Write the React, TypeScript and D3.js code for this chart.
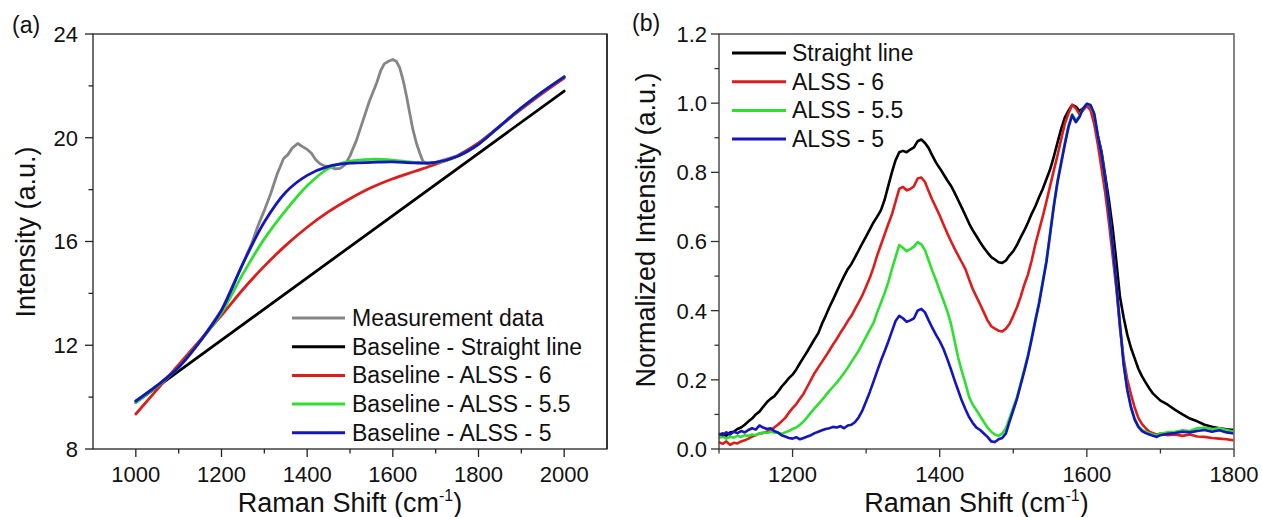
import React from "react";
import * as d3 from "d3";

const FONT = '"Liberation Sans", Arial, Helvetica, sans-serif';

// ---------- Panel (a) data ----------
const aMeasurement: [number, number][] = [
  [1000, 9.85], [1050, 10.45], [1100, 11.15], [1150, 12.15], [1200, 13.35], [1250, 15.15],
  [1270, 15.9], [1285, 16.6], [1300, 17.2], [1315, 17.85], [1330, 18.6], [1345, 19.2],
  [1355, 19.35], [1365, 19.6], [1378, 19.78], [1390, 19.65], [1400, 19.55], [1410, 19.4],
  [1420, 19.15], [1430, 19.0], [1440, 18.92], [1455, 18.88], [1465, 18.8], [1477, 18.82],
  [1488, 18.95], [1500, 19.3], [1515, 19.9], [1531, 20.7], [1545, 21.4], [1562, 22.1],
  [1572, 22.6], [1580, 22.85], [1590, 22.95], [1600, 23.02], [1608, 22.95], [1616, 22.7],
  [1625, 22.15], [1632, 21.6], [1640, 20.9], [1647, 20.3], [1655, 19.8], [1663, 19.4],
  [1670, 19.1], [1680, 19.0], [1700, 19.05], [1750, 19.3], [1800, 19.78], [1850, 20.45],
  [1900, 21.15], [1950, 21.78], [2000, 22.35],
];
const aStraight: [number, number][] = [[1000, 9.8], [2000, 21.8]];
const aAlss6: [number, number][] = [
  [1000, 9.35], [1050, 10.3], [1100, 11.25], [1150, 12.2], [1200, 13.15], [1250, 14.15],
  [1300, 15.05], [1350, 15.85], [1400, 16.55], [1450, 17.15], [1500, 17.65], [1550, 18.08],
  [1600, 18.42], [1650, 18.7], [1700, 18.98], [1750, 19.3], [1800, 19.8], [1850, 20.45],
  [1900, 21.1], [1950, 21.72], [2000, 22.3],
];
const aAlss55: [number, number][] = [
  [1000, 9.8], [1050, 10.42], [1100, 11.15], [1150, 12.15], [1200, 13.25], [1250, 14.75],
  [1300, 16.1], [1350, 17.2], [1400, 18.15], [1450, 18.82], [1500, 19.1], [1550, 19.17],
  [1600, 19.14], [1650, 19.05], [1700, 19.04], [1750, 19.28], [1800, 19.75], [1850, 20.45],
  [1900, 21.15], [1950, 21.78], [2000, 22.35],
];
const aAlss5: [number, number][] = [
  [1000, 9.85], [1050, 10.45], [1100, 11.15], [1150, 12.15], [1200, 13.35], [1250, 15.15],
  [1300, 16.75], [1350, 17.9], [1400, 18.55], [1450, 18.9], [1500, 19.02], [1550, 19.05],
  [1600, 19.07], [1650, 19.03], [1700, 19.05], [1750, 19.28], [1800, 19.75], [1850, 20.45],
  [1900, 21.15], [1950, 21.78], [2000, 22.35],
];
const aLegend = [
  "Measurement data",
  "Baseline - Straight line",
  "Baseline - ALSS - 6",
  "Baseline - ALSS - 5.5",
  "Baseline - ALSS - 5",
];
const aXMajor = [1000, 1200, 1400, 1600, 1800, 2000];
const aXMinor = [1100, 1300, 1500, 1700, 1900];
const aYMajor = [8, 12, 16, 20, 24];
const aYMinor = [10, 14, 18, 22];

// ---------- Panel (b) data ----------
const bStraight: [number, number][] = [
  [1100, 0.04], [1105, 0.045], [1110, 0.038], [1115, 0.048], [1120, 0.05], [1125, 0.058],
  [1130, 0.062], [1135, 0.07], [1140, 0.08], [1145, 0.088], [1150, 0.1], [1155, 0.108],
  [1160, 0.122], [1165, 0.135], [1170, 0.145], [1175, 0.152], [1180, 0.165], [1185, 0.18],
  [1190, 0.192], [1195, 0.205], [1200, 0.215], [1205, 0.23], [1210, 0.248], [1215, 0.265],
  [1220, 0.282], [1225, 0.3], [1230, 0.318], [1235, 0.335], [1240, 0.362], [1245, 0.385],
  [1250, 0.41], [1255, 0.432], [1260, 0.455], [1265, 0.478], [1270, 0.5], [1275, 0.52],
  [1280, 0.535], [1285, 0.555], [1290, 0.575], [1295, 0.595], [1300, 0.615], [1305, 0.635],
  [1310, 0.655], [1315, 0.672], [1320, 0.69], [1325, 0.72], [1330, 0.76], [1335, 0.8],
  [1340, 0.835], [1345, 0.858], [1350, 0.862], [1355, 0.858], [1360, 0.866], [1365, 0.872],
  [1370, 0.89], [1375, 0.895], [1380, 0.885], [1385, 0.87], [1390, 0.848], [1395, 0.828],
  [1400, 0.812], [1405, 0.795], [1410, 0.778], [1415, 0.762], [1420, 0.742], [1425, 0.72],
  [1430, 0.698], [1435, 0.675], [1440, 0.652], [1445, 0.632], [1450, 0.615], [1455, 0.598],
  [1460, 0.582], [1465, 0.568], [1470, 0.555], [1475, 0.548], [1480, 0.54], [1485, 0.538],
  [1490, 0.545], [1495, 0.56], [1500, 0.572], [1505, 0.59], [1510, 0.612], [1515, 0.632],
  [1520, 0.655], [1525, 0.68], [1530, 0.702], [1535, 0.728], [1540, 0.752], [1545, 0.78],
  [1550, 0.808], [1555, 0.845], [1560, 0.885], [1565, 0.925], [1570, 0.958], [1575, 0.978],
  [1580, 0.995], [1585, 0.99], [1590, 0.978], [1595, 0.985], [1600, 0.995], [1605, 0.985],
  [1610, 0.955], [1615, 0.905], [1620, 0.86], [1625, 0.79], [1630, 0.72], [1635, 0.64],
  [1640, 0.545], [1645, 0.44], [1650, 0.38], [1655, 0.33], [1660, 0.292], [1665, 0.262],
  [1670, 0.232], [1675, 0.21], [1680, 0.192], [1685, 0.175], [1690, 0.16], [1695, 0.15],
  [1700, 0.14], [1710, 0.128], [1720, 0.113], [1730, 0.1], [1740, 0.088], [1750, 0.08],
  [1760, 0.07], [1770, 0.064], [1780, 0.06], [1790, 0.057], [1800, 0.055],
];
const bAlss6: [number, number][] = [
  [1100, 0.02], [1105, 0.015], [1110, 0.022], [1115, 0.012], [1120, 0.018], [1125, 0.016],
  [1130, 0.022], [1135, 0.025], [1140, 0.03], [1145, 0.036], [1150, 0.04], [1155, 0.045],
  [1160, 0.046], [1165, 0.05], [1170, 0.055], [1175, 0.062], [1180, 0.07], [1185, 0.08],
  [1190, 0.09], [1195, 0.105], [1200, 0.118], [1205, 0.13], [1210, 0.145], [1215, 0.16],
  [1220, 0.18], [1225, 0.2], [1230, 0.22], [1235, 0.236], [1240, 0.252], [1245, 0.268],
  [1250, 0.285], [1255, 0.302], [1260, 0.318], [1265, 0.336], [1270, 0.352], [1275, 0.37],
  [1280, 0.385], [1285, 0.405], [1290, 0.425], [1295, 0.445], [1300, 0.47], [1305, 0.495],
  [1310, 0.525], [1315, 0.56], [1320, 0.59], [1325, 0.62], [1330, 0.65], [1335, 0.678],
  [1340, 0.715], [1345, 0.752], [1350, 0.758], [1355, 0.748], [1360, 0.752], [1365, 0.76],
  [1370, 0.782], [1375, 0.785], [1380, 0.772], [1385, 0.745], [1390, 0.72], [1395, 0.698],
  [1400, 0.675], [1405, 0.65], [1410, 0.625], [1415, 0.602], [1420, 0.58], [1425, 0.56],
  [1430, 0.54], [1435, 0.52], [1440, 0.49], [1445, 0.462], [1450, 0.44], [1455, 0.418],
  [1460, 0.395], [1465, 0.372], [1470, 0.355], [1475, 0.348], [1480, 0.342], [1485, 0.34],
  [1490, 0.348], [1495, 0.362], [1500, 0.385], [1505, 0.41], [1510, 0.44], [1515, 0.475],
  [1520, 0.505], [1525, 0.545], [1530, 0.592], [1535, 0.632], [1540, 0.672], [1545, 0.715],
  [1550, 0.76], [1555, 0.805], [1560, 0.848], [1565, 0.895], [1570, 0.94], [1575, 0.97],
  [1580, 0.995], [1585, 0.985], [1590, 0.968], [1595, 0.98], [1600, 0.992], [1605, 0.98],
  [1610, 0.94], [1615, 0.88], [1620, 0.81], [1625, 0.74], [1630, 0.655], [1635, 0.56],
  [1640, 0.465], [1645, 0.35], [1650, 0.26], [1655, 0.2], [1660, 0.158], [1665, 0.12],
  [1670, 0.09], [1675, 0.072], [1680, 0.06], [1685, 0.05], [1690, 0.046], [1695, 0.042],
  [1700, 0.045], [1710, 0.04], [1720, 0.042], [1730, 0.038], [1740, 0.042], [1750, 0.036],
  [1760, 0.035], [1770, 0.032], [1780, 0.03], [1790, 0.028], [1800, 0.025],
];
const bAlss55: [number, number][] = [
  [1100, 0.032], [1105, 0.036], [1110, 0.03], [1115, 0.035], [1120, 0.033], [1125, 0.038],
  [1130, 0.035], [1135, 0.04], [1140, 0.038], [1145, 0.042], [1150, 0.04], [1155, 0.045],
  [1160, 0.048], [1165, 0.046], [1170, 0.05], [1175, 0.048], [1180, 0.046], [1185, 0.044],
  [1190, 0.048], [1195, 0.052], [1200, 0.058], [1205, 0.062], [1210, 0.07], [1215, 0.08],
  [1220, 0.092], [1225, 0.105], [1230, 0.118], [1235, 0.13], [1240, 0.142], [1245, 0.155],
  [1250, 0.168], [1255, 0.18], [1260, 0.192], [1265, 0.205], [1270, 0.22], [1275, 0.235],
  [1280, 0.252], [1285, 0.268], [1290, 0.285], [1295, 0.305], [1300, 0.325], [1305, 0.345],
  [1310, 0.365], [1315, 0.395], [1320, 0.422], [1325, 0.45], [1330, 0.482], [1335, 0.52],
  [1340, 0.555], [1345, 0.59], [1350, 0.582], [1355, 0.572], [1360, 0.578], [1365, 0.585],
  [1370, 0.598], [1375, 0.592], [1380, 0.575], [1385, 0.545], [1390, 0.515], [1395, 0.488],
  [1400, 0.458], [1405, 0.43], [1410, 0.4], [1415, 0.365], [1420, 0.315], [1425, 0.265],
  [1430, 0.225], [1435, 0.19], [1440, 0.15], [1445, 0.128], [1450, 0.112], [1455, 0.095],
  [1460, 0.078], [1465, 0.062], [1470, 0.05], [1475, 0.042], [1480, 0.038], [1485, 0.045],
  [1490, 0.06], [1495, 0.09], [1500, 0.12], [1505, 0.15], [1510, 0.19], [1515, 0.23],
  [1520, 0.272], [1525, 0.322], [1530, 0.375], [1535, 0.425], [1540, 0.485], [1545, 0.545],
  [1550, 0.625], [1555, 0.705], [1560, 0.775], [1565, 0.83], [1570, 0.885], [1575, 0.935],
  [1580, 0.968], [1585, 0.95], [1590, 0.962], [1595, 0.985], [1600, 0.998], [1605, 0.992],
  [1610, 0.968], [1615, 0.905], [1620, 0.85], [1625, 0.775], [1630, 0.688], [1635, 0.588],
  [1640, 0.478], [1645, 0.36], [1650, 0.248], [1655, 0.172], [1660, 0.122], [1665, 0.088],
  [1670, 0.066], [1675, 0.055], [1680, 0.05], [1685, 0.046], [1690, 0.042], [1695, 0.04],
  [1700, 0.044], [1710, 0.048], [1720, 0.05], [1730, 0.054], [1740, 0.052], [1750, 0.06],
  [1760, 0.062], [1770, 0.058], [1780, 0.06], [1790, 0.055], [1800, 0.05],
];
const bAlss5: [number, number][] = [
  [1100, 0.045], [1105, 0.04], [1110, 0.048], [1115, 0.042], [1120, 0.05], [1125, 0.046],
  [1130, 0.052], [1135, 0.048], [1140, 0.055], [1145, 0.06], [1150, 0.056], [1155, 0.068],
  [1160, 0.062], [1165, 0.058], [1170, 0.06], [1175, 0.052], [1180, 0.048], [1185, 0.04],
  [1190, 0.036], [1195, 0.032], [1200, 0.03], [1205, 0.034], [1210, 0.028], [1215, 0.032],
  [1220, 0.036], [1225, 0.04], [1230, 0.046], [1235, 0.05], [1240, 0.054], [1245, 0.058],
  [1250, 0.06], [1255, 0.064], [1260, 0.062], [1265, 0.066], [1270, 0.06], [1275, 0.068],
  [1280, 0.07], [1285, 0.078], [1290, 0.092], [1295, 0.112], [1300, 0.138], [1305, 0.165],
  [1310, 0.195], [1315, 0.225], [1320, 0.255], [1325, 0.282], [1330, 0.31], [1335, 0.34],
  [1340, 0.37], [1345, 0.385], [1350, 0.378], [1355, 0.368], [1360, 0.372], [1365, 0.378],
  [1370, 0.4], [1375, 0.405], [1380, 0.395], [1385, 0.372], [1390, 0.35], [1395, 0.33],
  [1400, 0.312], [1405, 0.29], [1410, 0.262], [1415, 0.232], [1420, 0.2], [1425, 0.17],
  [1430, 0.14], [1435, 0.115], [1440, 0.092], [1445, 0.075], [1450, 0.062], [1455, 0.055],
  [1460, 0.045], [1465, 0.035], [1470, 0.022], [1475, 0.02], [1480, 0.028], [1485, 0.032],
  [1490, 0.045], [1495, 0.08], [1500, 0.112], [1505, 0.145], [1510, 0.185], [1515, 0.225],
  [1520, 0.268], [1525, 0.318], [1530, 0.37], [1535, 0.42], [1540, 0.48], [1545, 0.54],
  [1550, 0.62], [1555, 0.7], [1560, 0.77], [1565, 0.825], [1570, 0.88], [1575, 0.93],
  [1580, 0.965], [1585, 0.945], [1590, 0.96], [1595, 0.985], [1600, 0.998], [1605, 0.995],
  [1610, 0.97], [1615, 0.905], [1620, 0.85], [1625, 0.778], [1630, 0.69], [1635, 0.59],
  [1640, 0.48], [1645, 0.36], [1650, 0.245], [1655, 0.17], [1660, 0.12], [1665, 0.085],
  [1670, 0.064], [1675, 0.052], [1680, 0.046], [1685, 0.042], [1690, 0.038], [1695, 0.035],
  [1700, 0.04], [1710, 0.044], [1720, 0.046], [1730, 0.05], [1740, 0.048], [1750, 0.052],
  [1760, 0.055], [1770, 0.05], [1780, 0.054], [1790, 0.048], [1800, 0.045],
];
const bLegend = ["Straight line", "ALSS - 6", "ALSS - 5.5", "ALSS - 5"];
const bXMajor = [1200, 1400, 1600, 1800];
const bXMinor = [1100, 1300, 1500, 1700];
const bYMajor = [0, 0.2, 0.4, 0.6, 0.8, 1.0, 1.2];
const bYMinor = [0.1, 0.3, 0.5, 0.7, 0.9, 1.1];

const GRAY = "#858585";
const BLACK = "#000000";
const RED = "#dd1c1c";
const GREEN = "#2ee02e";
const BLUE = "#1414c0";

type Pt = [number, number];

function Frame({ x, y, xMajor, xMinor, yMajor, yMinor, yFmt, color, rightColor, labelGap }: any) {
  const [x0, x1] = x.range();
  const [y0, y1] = y.range();
  return (
    <g fontFamily={FONT} fill="#111">
      <rect x={x0} y={y1} width={x1 - x0} height={y0 - y1} fill="none" stroke={color} strokeWidth={1.3} />
      <line x1={x1} x2={x1} y1={y1} y2={y0} stroke={rightColor} strokeWidth={1.5} />
      {xMajor.map((v: number) => (
        <g key={"xm" + v}>
          <line x1={x(v)} x2={x(v)} y1={y0} y2={y0 + 8} stroke={color} strokeWidth={1.3} />
          <text x={x(v)} y={482} fontSize={22} textAnchor="middle">{v}</text>
        </g>
      ))}
      {xMinor.map((v: number) => (
        <line key={"xn" + v} x1={x(v)} x2={x(v)} y1={y0} y2={y0 + 4.5} stroke={color} strokeWidth={1.3} />
      ))}
      {yMajor.map((v: number) => (
        <g key={"ym" + v}>
          <line x1={x0 - 8} x2={x0} y1={y(v)} y2={y(v)} stroke={color} strokeWidth={1.3} />
          <text x={x0 - 8 - labelGap} y={y(v)} dy="0.36em" fontSize={22} textAnchor="end">{yFmt(v)}</text>
        </g>
      ))}
      {yMinor.map((v: number) => (
        <line key={"yn" + v} x1={x0 - 4.5} x2={x0} y1={y(v)} y2={y(v)} stroke={color} strokeWidth={1.3} />
      ))}
    </g>
  );
}

function XTitle({ cx }: { cx: number }) {
  return (
    <text x={cx} y={512} fontFamily={FONT} fontSize={27} textAnchor="middle" fill="#111">
      Raman Shift (cm
      <tspan fontSize={16} dy={-11}>-1</tspan>
      <tspan dy={11}>)</tspan>
    </text>
  );
}

export default function App() {
  const xA = d3.scaleLinear().domain([900, 2100]).range([93, 607]);
  const yA = d3.scaleLinear().domain([8, 24]).range([449, 34]);
  const xB = d3.scaleLinear().domain([1100, 1800]).range([719, 1234]);
  const yB = d3.scaleLinear().domain([0, 1.2]).range([449, 34]);

  const smoothA = d3.line<Pt>().x((d) => xA(d[0])).y((d) => yA(d[1])).curve(d3.curveCatmullRom.alpha(0.5));
  const rawA = d3.line<Pt>().x((d) => xA(d[0])).y((d) => yA(d[1])).curve(d3.curveLinear);
  const lineB = d3.line<Pt>().x((d) => xB(d[0])).y((d) => yB(d[1])).curve(d3.curveLinear);

  const aSeries = [
    { d: rawA(aMeasurement), c: GRAY },
    { d: rawA(aStraight), c: BLACK },
    { d: smoothA(aAlss6), c: RED },
    { d: smoothA(aAlss55), c: GREEN },
    { d: smoothA(aAlss5), c: BLUE },
  ];
  const aColors = [GRAY, BLACK, RED, GREEN, BLUE];
  const bSeries = [
    { d: lineB(bStraight), c: BLACK },
    { d: lineB(bAlss6), c: RED },
    { d: lineB(bAlss55), c: GREEN },
    { d: lineB(bAlss5), c: BLUE },
  ];
  const bColors = [BLACK, RED, GREEN, BLUE];

  return (
    <svg width={1262} height={517} style={{ position: "absolute", left: 0, top: 0, background: "#fff" }}>
      <rect x={0} y={0} width={1262} height={517} fill="#fff" />
      {/* Panel (a) */}
      <text x={12} y={33} fontFamily={FONT} fontSize={23} fill="#111">(a)</text>
      {aSeries.map((s, i) => (
        <path key={"a" + i} d={s.d || ""} fill="none" stroke={s.c} strokeWidth={2.8} strokeLinejoin="round" strokeLinecap="round" />
      ))}
      <Frame x={xA} y={yA} xMajor={aXMajor} xMinor={aXMinor} yMajor={aYMajor} yMinor={aYMinor}
        yFmt={(v: number) => String(v)} color="#222" rightColor="#222" labelGap={7} />
      {aLegend.map((t, i) => {
        const ry = 318 + i * 28.7;
        return (
          <g key={"al" + i}>
            <line x1={292} x2={345} y1={ry} y2={ry} stroke={aColors[i]} strokeWidth={3} />
            <text x={352} y={ry + 8} fontFamily={FONT} fontSize={23} fill="#111">{t}</text>
          </g>
        );
      })}
      <text transform="translate(35,232) rotate(-90)" fontFamily={FONT} fontSize={27} textAnchor="middle" fill="#111">
        Intensity (a.u.)
      </text>
      <XTitle cx={350} />

      {/* Panel (b) */}
      <text x={632} y={31} fontFamily={FONT} fontSize={23} fill="#111">(b)</text>
      {bSeries.map((s, i) => (
        <path key={"b" + i} d={s.d || ""} fill="none" stroke={s.c} strokeWidth={2.6} strokeLinejoin="round" />
      ))}
      <Frame x={xB} y={yB} xMajor={bXMajor} xMinor={bXMinor} yMajor={bYMajor} yMinor={bYMinor}
        yFmt={(v: number) => v.toFixed(1)} color="#333" rightColor="#8a8a8a" labelGap={4} />
      {bLegend.map((t, i) => {
        const ry = 53 + i * 28.7;
        return (
          <g key={"bl" + i}>
            <line x1={732} x2={786} y1={ry} y2={ry} stroke={bColors[i]} strokeWidth={3} />
            <text x={792} y={ry + 8} fontFamily={FONT} fontSize={23} fill="#111">{t}</text>
          </g>
        );
      })}
      <text transform="translate(655,230) rotate(-90)" fontFamily={FONT} fontSize={27} textAnchor="middle" fill="#111">
        Normalized Intensity (a.u.)
      </text>
      <XTitle cx={976.5} />
    </svg>
  );
}
